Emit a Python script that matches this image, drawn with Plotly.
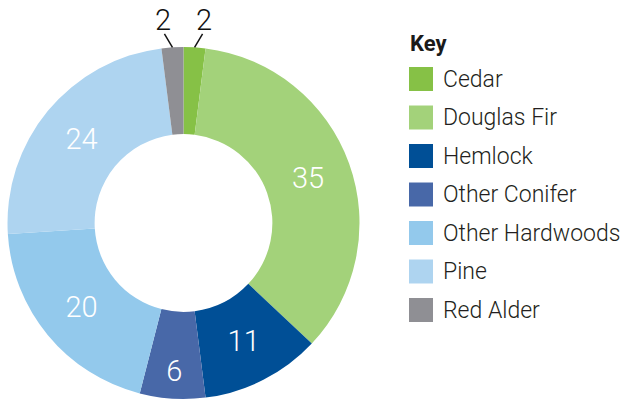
import math
import plotly.graph_objects as go

species = ["Cedar", "Douglas Fir", "Hemlock", "Other Conifer",
           "Other Hardwoods", "Pine", "Red Alder"]
shares = [2, 35, 11, 6, 20, 24, 2]
colors = ["#86c146", "#a3d27a", "#004f96", "#4868a8",
          "#93c9ec", "#aed4f0", "#8f8f94"]

W, H = 623, 400
CX, CY, R_OUT = 183.5, 223.0, 176.0
FONT = "Roboto"


def px(x):
    return x / W


def py(y):
    return 1 - y / H


# small slices get an outside label with a leader line, the rest inside
small = [v < 4 for v in shares]
textpos = ["none" if s else "inside" for s in small]

pie = go.Pie(
    labels=species,
    values=shares,
    sort=False,
    direction="clockwise",
    rotation=0,
    hole=0.505,
    marker=dict(colors=colors, line=dict(width=0)),
    textinfo="value",
    textposition=textpos,
    insidetextorientation="horizontal",
    insidetextfont=dict(family=FONT, size=29, color="white", weight=300),
    domain=dict(x=[px(CX - R_OUT), px(CX + R_OUT)],
                y=[py(CY + R_OUT), py(CY - R_OUT)]),
    showlegend=False,
    hoverinfo="label+value",
)

fig = go.Figure(data=[pie])

shapes = []
annotations = []

# leader lines for small slices
total = sum(shares)
cum = 0
for name, v, s in zip(species, shares, small):
    mid = (cum + v / 2) / total * 360
    cum += v
    if not s:
        continue
    if mid > 180:
        mid -= 360
    a0 = math.radians(mid)
    a1 = math.radians(mid * 1.6)
    x0, y0 = CX + R_OUT * math.sin(a0), CY - R_OUT * math.cos(a0)
    x1, y1 = CX + 190 * math.sin(a1), CY - 190 * math.cos(a1)
    shapes.append(dict(type="line", xref="paper", yref="paper",
                       x0=px(x0), y0=py(y0), x1=px(x1), y1=py(y1),
                       line=dict(color="#111111", width=1.5)))
    xt, yt = CX + 204 * math.sin(a1), CY - 204 * math.cos(a1)
    annotations.append(dict(x=px(xt), y=py(yt), xref="paper", yref="paper",
                            text=str(v), showarrow=False,
                            xanchor="center", yanchor="middle",
                            font=dict(family=FONT, size=29, color="#111111", weight=300)))

# custom key
annotations.append(dict(x=px(408), y=py(43), xref="paper", yref="paper",
                        text="<b>Key</b>", showarrow=False,
                        xanchor="left", yanchor="middle",
                        font=dict(family=FONT, size=22, color="#1a1a1a")))
for i, (name, c) in enumerate(zip(species, colors)):
    top = 67 + i * 38.5
    shapes.append(dict(type="rect", xref="paper", yref="paper",
                       x0=px(409), x1=px(433), y0=py(top), y1=py(top + 24),
                       fillcolor=c, line=dict(width=0)))
    annotations.append(dict(x=px(441), y=py(top + 12), xref="paper", yref="paper",
                            text=name, showarrow=False,
                            xanchor="left", yanchor="middle",
                            font=dict(family=FONT, size=23, color="#231f20", weight=300)))

fig.update_layout(
    width=W, height=H,
    margin=dict(l=0, r=0, t=0, b=0),
    paper_bgcolor="white",
    plot_bgcolor="white",
    shapes=shapes,
    annotations=annotations,
)

fig.write_html("out.html", config={"displayModeBar": False},
               post_script="document.body.style.margin='0';")
